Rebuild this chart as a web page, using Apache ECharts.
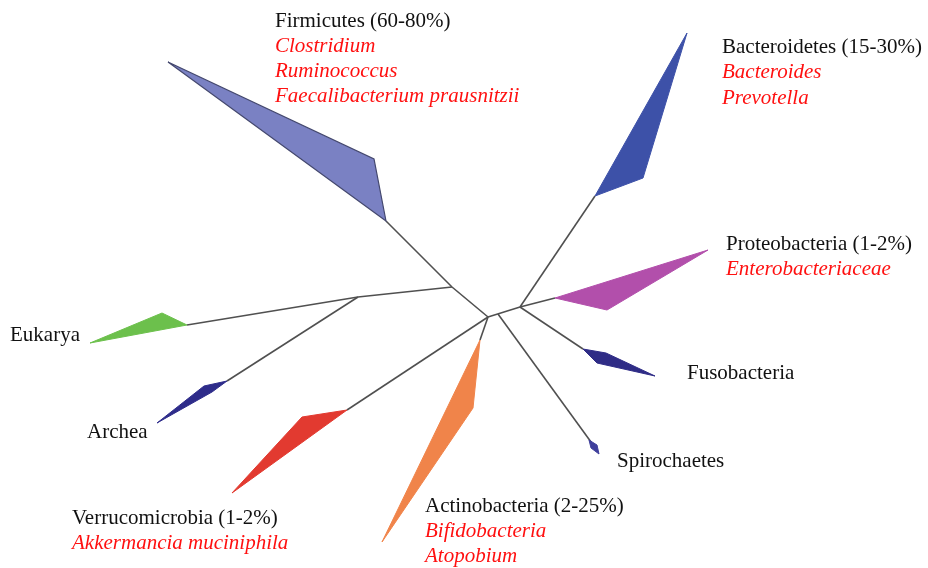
<!DOCTYPE html>
<html>
<head>
<meta charset="utf-8">
<script src="https://cdn.jsdelivr.net/npm/echarts@6/dist/echarts.min.js"></script>
<style>
  html, body { margin: 0; padding: 0; background: #fff; }
  #chart { width: 928px; height: 568px; }
</style>
</head>
<body>
<div id="chart"></div>
<script>
// tree nodes (picture coordinates, y grows downward)
var nodes = {
    hub: [488, 317],
    prok: [520, 307],
    firm: [452, 287],
    euArc: [358, 297],
    spiro: [498, 314]
};

// branches: from -> to
var branches = [
    [nodes.hub, nodes.prok],
    [nodes.prok, [595, 196]],
    [nodes.prok, [555, 298]],
    [nodes.prok, [583, 349]],
    [nodes.spiro, [591, 442]],
    [nodes.hub, [480, 340]],
    [nodes.hub, [347, 410]],
    [nodes.hub, nodes.firm],
    [nodes.firm, [386, 221]],
    [nodes.firm, nodes.euArc],
    [nodes.euArc, [187, 325]],
    [nodes.euArc, [227, 381]]
];

// clade wedges
var cladeNames = ['Firmicutes', 'Bacteroidetes', 'Proteobacteria', 'Fusobacteria', 'Spirochaetes',
    'Actinobacteria', 'Verrucomicrobia', 'Archea', 'Eukarya'];
var cladeShapes = [
    [[386, 221], [168, 62], [374, 159]],
    [[595, 196], [687, 33], [643, 178]],
    [[555, 298], [708, 250], [607, 310]],
    [[583, 349], [606, 353], [655, 376], [597, 363]],
    [[589, 440], [597, 445], [599, 454], [591, 448]],
    [[480, 340], [473, 408], [382, 542]],
    [[347, 410], [302, 417], [232, 493]],
    [[227, 381], [204, 386], [157, 423], [212, 392]],
    [[187, 325], [162, 313], [90, 343]]
];
var cladeColors = ['#7a81c3', '#3d51a8', '#b24fab', '#2f2c86', '#3f3f9c',
    '#f0844a', '#e23a30', '#2e2c8a', '#6cc04c'];

// labels: text, anchor, italic (red genus names)
var labelTexts = [
    'Firmicutes (60-80%)', 'Clostridium', 'Ruminococcus', 'Faecalibacterium prausnitzii',
    'Bacteroidetes (15-30%)', 'Bacteroides', 'Prevotella',
    'Proteobacteria (1-2%)', 'Enterobacteriaceae',
    'Fusobacteria', 'Spirochaetes',
    'Actinobacteria (2-25%)', 'Bifidobacteria', 'Atopobium',
    'Verrucomicrobia (1-2%)', 'Akkermancia muciniphila',
    'Eukarya', 'Archea'
];
var labelPos = [
    [275, 20], [275, 45], [275, 70], [275, 95],
    [722, 46], [722, 71], [722, 97],
    [726, 243], [726, 268],
    [687, 372], [617, 460],
    [425, 505], [425, 530], [425, 555],
    [72, 517], [72, 542],
    [10, 334], [87, 431]
];
var labelItalic = [0, 1, 1, 1, 0, 1, 1, 0, 1, 0, 0, 0, 1, 1, 0, 1, 0, 0];

var chart = echarts.init(document.getElementById('chart'));

var option = {
    animation: false,
    grid: { left: 0, right: 0, top: 0, bottom: 0 },
    xAxis: { type: 'value', min: 0, max: 928, show: false },
    yAxis: { type: 'value', min: 0, max: 568, inverse: true, show: false },
    series: [
        {
            type: 'lines',
            coordinateSystem: 'cartesian2d',
            data: branches.map(function (b) { return { coords: b }; }),
            lineStyle: { color: '#505050', width: 1.6, opacity: 1 },
            z: 1
        },
        {
            type: 'custom',
            coordinateSystem: 'cartesian2d',
            data: cladeNames.map(function (n, i) { return [i]; }),
            renderItem: function (params, api) {
                var i = api.value(0);
                var pts = cladeShapes[i].map(function (p) { return api.coord(p); });
                return {
                    type: 'polygon',
                    shape: { points: pts },
                    style: {
                        fill: cladeColors[i],
                        stroke: i === 0 ? '#44486e' : cladeColors[i],
                        lineWidth: i === 0 ? 1.2 : 1
                    }
                };
            },
            z: 2
        },
        {
            type: 'custom',
            coordinateSystem: 'cartesian2d',
            data: labelTexts.map(function (t, i) { return [i]; }),
            renderItem: function (params, api) {
                var i = api.value(0);
                var p = api.coord(labelPos[i]);
                return {
                    type: 'text',
                    x: p[0],
                    y: p[1] + 1,
                    style: {
                        text: labelTexts[i],
                        fill: labelItalic[i] ? '#ff1010' : '#111',
                        font: (labelItalic[i] ? 'italic ' : '') + '21px "Liberation Serif", "Times New Roman", serif',
                        textAlign: 'left',
                        textVerticalAlign: 'middle'
                    }
                };
            },
            z: 3
        }
    ]
};

chart.setOption(option);

window.addEventListener('resize', function () {
    chart.resize();
});
</script>
</body>
</html>
